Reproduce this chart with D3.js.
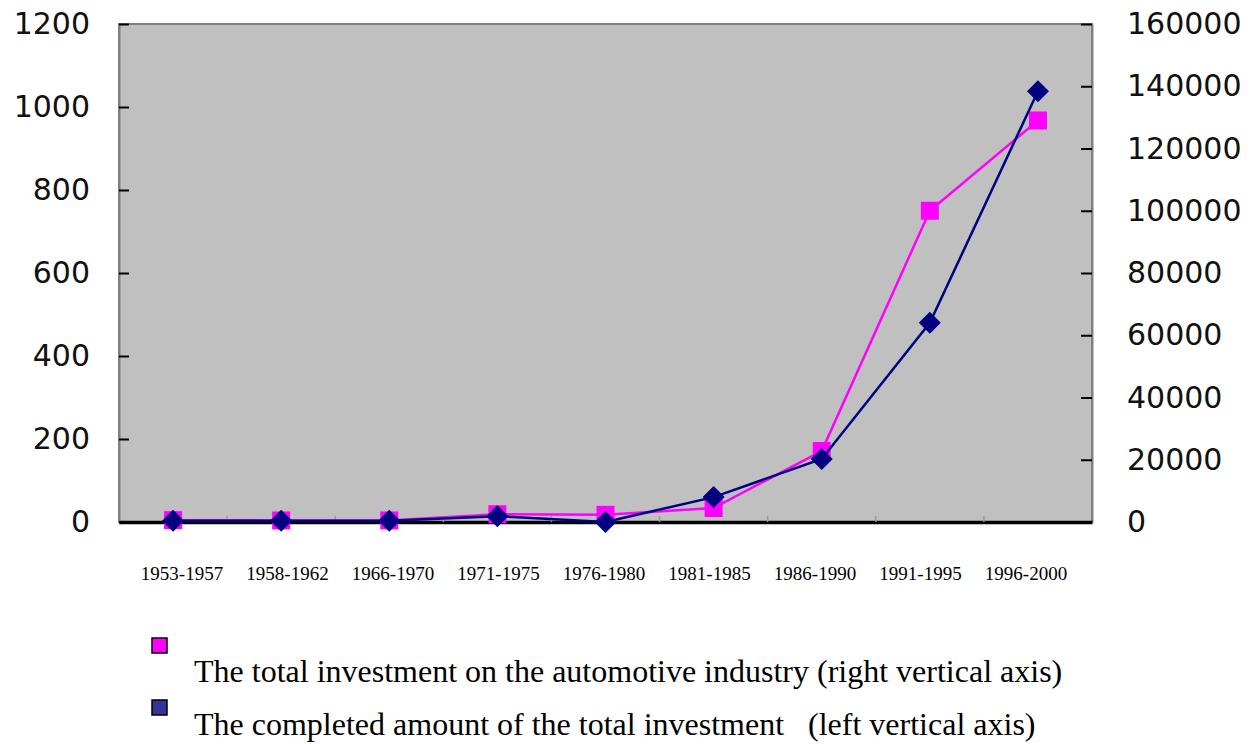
<!DOCTYPE html>
<html>
<head>
<meta charset="utf-8">
<script src="https://cdn.jsdelivr.net/npm/d3@7"></script>
<style>
  body { margin: 0; background: #fff; }
  svg { display: block; }
</style>
</head>
<body>
<div id="chart"></div>
<script>
// Periods on the x axis
const periods = ["1953-1957", "1958-1962", "1966-1970", "1971-1975", "1976-1980",
                 "1981-1985", "1986-1990", "1991-1995", "1996-2000"];
// Total investment on the automotive industry (right axis)
const totalInvestment = [600, 500, 500, 2500, 2300, 4500, 22800, 100000, 129000];
// Completed amount of the total investment (left axis)
const completedAmount = [3, 3, 3, 14, 0, 60, 152, 480, 1038];
// Tick labels
const leftTicks = [0, 200, 400, 600, 800, 1000, 1200];
const rightTicks = [0, 20000, 40000, 60000, 80000, 100000, 120000, 140000, 160000];
const legendLabels = [
  "The total investment on the automotive industry (right vertical axis)",
  "The completed amount of the total investment   (left vertical axis)"
];

const width = 1259;
const height = 744;
const plot = {left: 119, right: 1092, top: 24, bottom: 522};

const pink = "#ff00ff";
const navy = "#000080";

const svg = d3.select("#chart")
  .append("svg")
    .attr("width", width)
    .attr("height", height);

// Scales
const xBand = d3.scaleBand()
  .domain(periods)
  .range([plot.left, plot.right]);
const xPoint = d => xBand(d) + xBand.bandwidth() / 2;
// labels sit slightly off the points in the original
const xLabel = d3.scalePoint()
  .domain(periods)
  .range([plot.left + 63, plot.right - 66]);

const yLeft = d3.scaleLinear()
  .domain([0, 1200])
  .range([plot.bottom, plot.top]);
const yRight = d3.scaleLinear()
  .domain([0, 160000])
  .range([plot.bottom, plot.top]);

// Plot area
svg.append("rect")
    .attr("x", plot.left)
    .attr("y", plot.top)
    .attr("width", plot.right - plot.left)
    .attr("height", plot.bottom - plot.top)
    .attr("fill", "#c0c0c0")
    .attr("stroke", "#808080")
    .attr("stroke-width", 2);

// Left axis
const leftAxis = svg.append("g")
    .attr("transform", `translate(${plot.left}, 0)`)
    .call(d3.axisLeft(yLeft).tickValues(leftTicks).tickFormat(d3.format("d"))
      .tickSizeInner(-10).tickSizeOuter(0).tickPadding(29));
leftAxis.select(".domain").attr("stroke", "#808080").attr("stroke-width", 2);
leftAxis.selectAll(".tick line").attr("stroke", "#000").attr("stroke-width", 2);
leftAxis.selectAll(".tick text")
    .attr("font-family", "DejaVu Sans")
    .attr("font-size", 30)
    .attr("fill", "#111");

// Right axis
const rightAxis = svg.append("g")
    .attr("transform", `translate(${plot.right}, 0)`)
    .call(d3.axisRight(yRight).tickValues(rightTicks).tickFormat(d3.format("d"))
      .tickSizeInner(-11).tickSizeOuter(0).tickPadding(35));
rightAxis.select(".domain").attr("stroke", "#808080").attr("stroke-width", 2);
rightAxis.selectAll(".tick line").attr("stroke", "#000").attr("stroke-width", 2);
rightAxis.selectAll(".tick text")
    .attr("font-family", "DejaVu Sans")
    .attr("font-size", 30)
    .attr("fill", "#111");

// Bottom axis: thick line with small category dividers
const bottomAxis = svg.append("g")
    .attr("transform", `translate(0, ${plot.bottom})`)
    .call(d3.axisBottom(xBand).tickSize(0).tickFormat(""));
bottomAxis.select(".domain").attr("stroke", "#000").attr("stroke-width", 3.5);
svg.append("g")
  .selectAll("line")
  .data(periods.slice(1))
  .join("line")
    .attr("x1", d => xBand(d))
    .attr("x2", d => xBand(d))
    .attr("y1", plot.bottom)
    .attr("y2", plot.bottom - 6)
    .attr("stroke", "#999")
    .attr("stroke-width", 1.5);

// Category labels
svg.append("g")
  .selectAll("text")
  .data(periods)
  .join("text")
    .attr("x", d => xLabel(d))
    .attr("y", 580)
    .attr("text-anchor", "middle")
    .attr("font-family", "Liberation Serif")
    .attr("font-size", 19)
    .attr("fill", "#000")
    .text(d => d);

// Total investment line (right axis)
svg.append("path")
    .datum(totalInvestment)
    .attr("fill", "none")
    .attr("stroke", pink)
    .attr("stroke-width", 2.5)
    .attr("d", d3.line().x((d, i) => xPoint(periods[i])).y(d => yRight(d)));
svg.append("g")
  .selectAll("rect")
  .data(totalInvestment)
  .join("rect")
    .attr("x", (d, i) => xPoint(periods[i]) - 9)
    .attr("y", d => yRight(d) - 9)
    .attr("width", 18)
    .attr("height", 18)
    .attr("fill", pink);

// Completed amount line (left axis)
svg.append("path")
    .datum(completedAmount)
    .attr("fill", "none")
    .attr("stroke", navy)
    .attr("stroke-width", 2.5)
    .attr("d", d3.line().x((d, i) => xPoint(periods[i])).y(d => yLeft(d)));
svg.append("g")
  .selectAll("path")
  .data(completedAmount)
  .join("path")
    .attr("transform", (d, i) => `translate(${xPoint(periods[i])}, ${yLeft(d)})`)
    .attr("d", "M0,-11L11,0L0,11L-11,0Z")
    .attr("fill", navy);

// Legend
const legendColors = [pink, "#333399"];
const legend = svg.append("g");
legendLabels.forEach((label, i) => {
  legend.append("rect")
      .attr("x", 152)
      .attr("y", 638 + i * 62)
      .attr("width", 15)
      .attr("height", 15)
      .attr("fill", legendColors[i])
      .attr("stroke", "#000")
      .attr("stroke-width", 1.5);
  legend.append("text")
      .attr("x", 194)
      .attr("y", 682 + i * 53)
      .attr("font-family", "Liberation Serif")
      .attr("font-size", 32)
      .attr("fill", "#000")
      .attr("xml:space", "preserve")
      .style("white-space", "pre")
      .text(label);
});
</script>
</body>
</html>
